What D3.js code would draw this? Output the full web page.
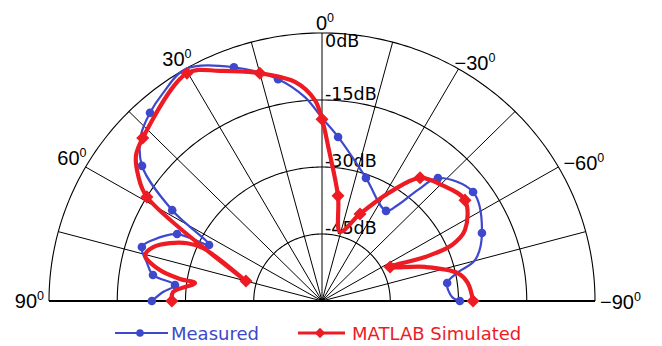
<!DOCTYPE html>
<html>
<head>
<meta charset="utf-8">
<script src="https://cdn.jsdelivr.net/npm/d3@7"></script>
<style>
  body { margin: 0; background: #fff; }
  svg { display: block; }
</style>
</head>
<body>
<svg id="chart" width="662" height="346"></svg>
<script>
// --- data: angle (deg, positive = left), level (dB) ---
const measuredAngle = [90, 86.7, 83.7, 81.1, 77.5, 73, 69.8, 64.8, 63.2, 58.3, 52.6, 47, 41.9, 36.9, 30, 20.3, 11, 4.7, 0,
  -5.5, -19.3, -34.9, -37.8, -40.3, -42.8, -53.7, -66.6, -74.7, -78.1, -81.7, -88.2, -90];
const measuredDb = [-22.6, -25.0, -27.5, -22.4, -20.6, -18.6, -20.4, -24.8, -32.2, -21.3, -10.2, -5.6, -3.4, -1.8, 0, -4.2, -9.4, -14.2, -19.0,
  -23.1, -30.8, -35.4, -32.8, -27.4, -22.5, -18.8, -21.7, -25.1, -29.7, -32.2, -31.4, -29.7];
const measuredMarks = [0, 2, 3, 5, 7, 8, 9, 10, 12, 15, 16, 19, 20, 21, 24, 25, 26, 29, 31];

const simAngle = [90, 86.5, 81.8, 81, 79, 75.2, 72, 68.8, 66.4, 65.6, 67.7, 75, 58.8, 55.2, 51.4, 47.2, 30.2, 23.5, 15, 6.9, 2, 0,
  -2.6, -8.5, -14.4, -23.2, -31.5, -38, -45.5, -54.3, -63.2, -66.3, -66.5, -63, -71.4, -78.2, -82.9, -90];
const simDb = [-27, -27.2, -31.8, -28.4, -23.7, -19.8, -21.0, -24.2, -27.7, -31.3, -35.8, -42.7, -15.0, -10.8, -7.7, -6.3, -1.0, -3.8, -7.2, -10.6, -15.0, -19.3,
  -26.2, -36.2, -44.0, -38.8, -31.4, -25.0, -23.0, -21.3, -24.8, -28.8, -35.3, -43.2, -36.1, -29.5, -27.7, -26.8];
const simMarks = [0, 11, 12, 15, 16, 18, 21, 23, 25, 27, 29, 33, 37];

const ringLevels = [-45, -30, -15, 0];
const spokeAngles = [-75, -60, -45, -30, -15, 0, 15, 30, 45, 60, 75];
const angleTicks = [90, 60, 30, 0, -30, -60, -90];

// --- layout ---
const cx = 322, cy = 301, R = 273, ky = 268 / 273;
const blue = "#3e48cc", red = "#ed1c24";
const svg = d3.select("#chart");

const rScale = d3.scaleLinear().domain([-60, 0]).range([0, R]);
function pt(a, db) {
  const t = a * Math.PI / 180, r = rScale(db);
  return [cx - r * Math.sin(t), cy - r * Math.cos(t) * ky];
}

// grid
const grid = svg.append("g").attr("fill", "none").attr("stroke", "#000");
const arcAngles = d3.range(-90, 90.5, 1);
ringLevels.forEach(db => {
  grid.append("path")
    .attr("d", d3.line()(arcAngles.map(a => pt(a, db))))
    .attr("stroke-width", 1.1);
});
spokeAngles.forEach(a => {
  grid.append("line")
    .attr("x1", cx).attr("y1", cy)
    .attr("x2", pt(a, 0)[0]).attr("y2", pt(a, 0)[1])
    .attr("stroke-width", 1);
});
grid.append("line")
  .attr("x1", pt(90, 0)[0]).attr("y1", cy)
  .attr("x2", pt(-90, 0)[0]).attr("y2", cy)
  .attr("stroke-width", 2.2);

// angle labels
const labelOff = { "90": [-5, 7], "60": [1, -2], "30": [6, -3], "0": [3, -3], "-30": [-4, 1], "-60": [5, 3], "-90": [5, 8] };
angleTicks.forEach(a => {
  const p = pt(a, 0), off = labelOff[a];
  const t = svg.append("text")
    .attr("x", p[0] + off[0]).attr("y", p[1] + off[1])
    .attr("text-anchor", a > 0 ? "end" : a < 0 ? "start" : "middle")
    .attr("font-family", "Liberation Sans, Arial, sans-serif")
    .attr("font-size", 20).attr("fill", "#000");
  t.append("tspan").text((a < 0 ? "\u2212" : "") + Math.abs(a));
  t.append("tspan").attr("font-size", 12.5).attr("dy", -8).text("0");
});

// dB labels
ringLevels.slice().reverse().forEach(db => {
  svg.append("text")
    .attr("x", cx + 3)
    .attr("y", pt(0, db)[1] + (db === 0 ? 14 : 0))
    .attr("font-family", "DejaVu Sans, sans-serif")
    .attr("font-size", 17.5).attr("fill", "#000")
    .text(db + "dB");
});

// series
const curve = d3.curveCatmullRom.alpha(0.5);
const mPts = measuredAngle.map((a, i) => pt(a, measuredDb[i]));
const sPts = simAngle.map((a, i) => pt(a, simDb[i]));

svg.append("path")
  .attr("d", d3.line().curve(curve)(mPts))
  .attr("fill", "none").attr("stroke", blue).attr("stroke-width", 2.2);
svg.selectAll("circle.meas").data(measuredMarks).enter().append("circle")
  .attr("class", "meas")
  .attr("cx", i => mPts[i][0]).attr("cy", i => mPts[i][1])
  .attr("r", 4.3).attr("fill", blue);

svg.append("path")
  .attr("d", d3.line().curve(curve)(sPts))
  .attr("fill", "none").attr("stroke", red).attr("stroke-width", 4.2)
  .attr("stroke-linejoin", "round");
const diamond = d3.symbol().type(d3.symbolSquare).size(85);
svg.selectAll("path.sim").data(simMarks).enter().append("path")
  .attr("class", "sim")
  .attr("d", diamond)
  .attr("transform", i => `translate(${sPts[i][0]},${sPts[i][1]}) rotate(45)`)
  .attr("fill", red);

// legend
const lg = svg.append("g").attr("font-family", "DejaVu Sans, sans-serif").attr("font-size", 18);
lg.append("line").attr("x1", 115).attr("x2", 168).attr("y1", 333).attr("y2", 333)
  .attr("stroke", blue).attr("stroke-width", 2);
lg.append("circle").attr("cx", 140).attr("cy", 333).attr("r", 3.8).attr("fill", blue);
lg.append("text").attr("x", 171).attr("y", 340).attr("fill", blue).text("Measured");

lg.append("line").attr("x1", 298).attr("x2", 345).attr("y1", 333).attr("y2", 333)
  .attr("stroke", red).attr("stroke-width", 3);
lg.append("path").attr("d", d3.symbol().type(d3.symbolSquare).size(55))
  .attr("transform", "translate(320,333) rotate(45)").attr("fill", red);
lg.append("text").attr("x", 352).attr("y", 340).attr("fill", red).text("MATLAB Simulated");
</script>
</body>
</html>
